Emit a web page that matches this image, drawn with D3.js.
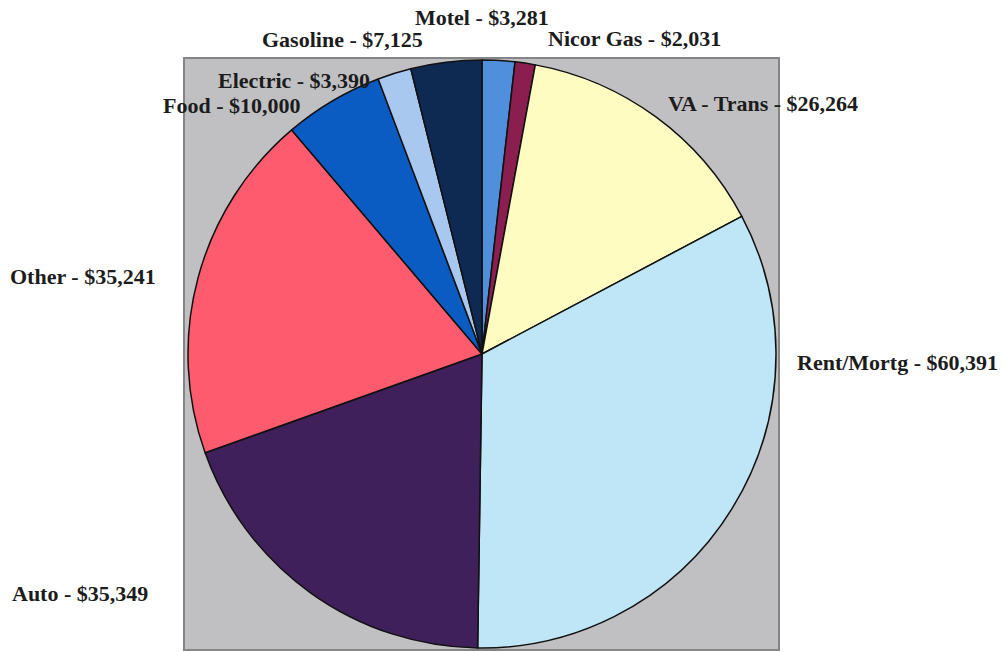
<!DOCTYPE html>
<html>
<head>
<meta charset="utf-8">
<script src="https://cdn.jsdelivr.net/npm/d3@7"></script>
<style>
  body { margin: 0; background: #fff; }
  svg { display: block; }
</style>
</head>
<body>
<div id="vis"></div>
<script>
// Slices, clockwise from 12 o'clock
const categories = ["Motel", "Nicor Gas", "VA - Trans", "Rent/Mortg", "Auto", "Other", "Food", "Electric", "Gasoline"];
const amounts = [3281, 2031, 26264, 60391, 35349, 35241, 10000, 3390, 7125];
const sliceColors = ["#4f8fdc", "#8a1f4f", "#fffcc2", "#bfe6f6", "#40205a", "#ff5b6f", "#0b5cc2", "#a8c8f0", "#0f2a52"];

// where each label sits (left edge, baseline), same order as categories
const labelAt = [[415, 25], [548, 46], [668, 111], [797, 370], [12, 601], [10, 284], [163, 113], [218, 88], [262, 47]];

const width = 1005, height = 652;
const cx = 482, cy = 354, radius = 294;

const svg = d3.select("#vis").append("svg")
  .attr("width", width)
  .attr("height", height);

// gray plot area
svg.append("rect")
  .attr("x", 184)
  .attr("y", 58)
  .attr("width", 595)
  .attr("height", 592)
  .attr("fill", "#c0c0c3")
  .attr("stroke", "#858585")
  .attr("stroke-width", 2);

const data = categories.map((c, i) => ({ name: c, value: amounts[i], color: sliceColors[i] }));

const pie = d3.pie()
  .sort(null)
  .value(d => d.value);

const arc = d3.arc()
  .innerRadius(0)
  .outerRadius(radius);

const g = svg.append("g")
  .attr("transform", `translate(${cx},${cy})`);

g.selectAll("path")
  .data(pie(data))
  .join("path")
  .attr("d", arc)
  .attr("fill", d => d.data.color)
  .attr("stroke", "#111")
  .attr("stroke-width", 1.5)
  .attr("stroke-linejoin", "round");

const fmt = d3.format(",");

svg.selectAll("text.lbl")
  .data(data)
  .join("text")
  .attr("class", "lbl")
  .attr("x", (d, i) => labelAt[i][0])
  .attr("y", (d, i) => labelAt[i][1])
  .attr("font-family", "'Liberation Serif', 'Times New Roman', serif")
  .attr("font-weight", "bold")
  .attr("font-size", "22px")
  .attr("fill", "#1c1c1c")
  .text(d => `${d.name} - $${fmt(d.value)}`);
</script>
</body>
</html>
